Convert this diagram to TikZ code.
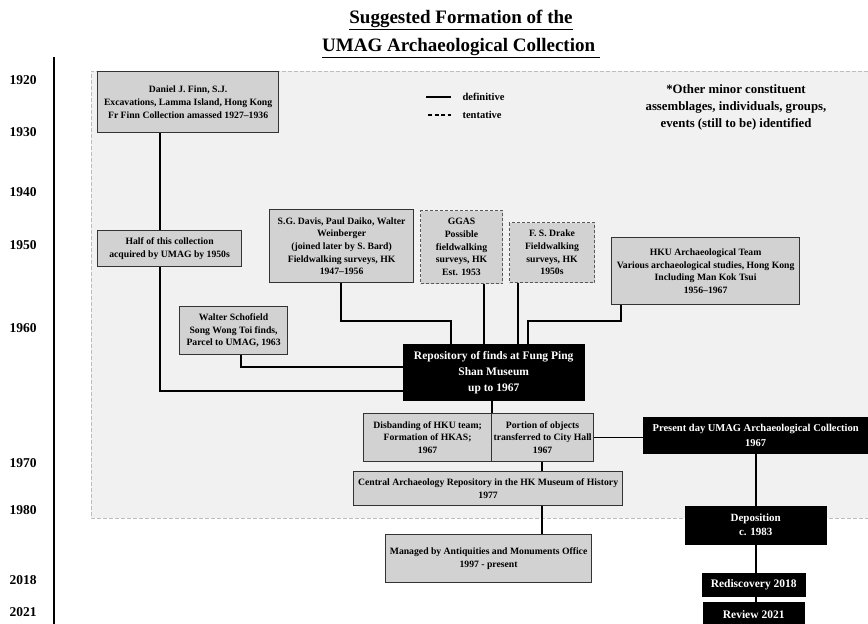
\documentclass[tikz,border=0pt]{standalone}
\usepackage{fontspec}
\setmainfont{Liberation Serif}
\usetikzlibrary{positioning}
\definecolor{boxgray}{HTML}{D2D2D2}
\definecolor{zonegray}{HTML}{F1F1F1}
\definecolor{zoneedge}{HTML}{BDBDBD}
\tikzset{
    gbox/.style={
        draw=black!80,
        line width=1.2pt,
        fill=boxgray,
        align=center,
        anchor=north west,
        inner sep=1pt,
        font=\bfseries\fontsize{9.7}{12.7}\selectfont
    },
    tbox/.style={
        gbox,
        draw=black!65,
        line width=1pt,
        dash pattern=on 3pt off 2pt
    },
    bbox/.style={
        draw=black,
        fill=black,
        text=white,
        align=center,
        anchor=north west,
        inner sep=1pt,
        font=\bfseries\fontsize{11.5}{16}\selectfont
    },
    link/.style={
        line width=1.6pt,
        black
    },
    yr/.style={font=\bfseries\fontsize{13.5}{14}\selectfont},
    lbl/.style={font=\bfseries\fontsize{10.5}{12}\selectfont, anchor=west}
}

\begin{document}
\begin{tikzpicture}[x=1pt,y=-1pt]
\useasboundingbox (0,0) rectangle (868,624);

% shaded zone
\fill[zonegray] (91,71) rectangle (880,518);
\draw[zoneedge, line width=0.9pt, dash pattern=on 4pt off 2pt]
    (880,71) -- (91,71) -- (91,518) -- (880,518);

% title
\node[align=center, font=\bfseries\fontsize{19}{28}\selectfont] (title) at (461,34)
    {\underline{Suggested Formation of the}\\\underline{UMAG Archaeological Collection\ }};

% time axis
\coordinate (axtop) at (54,57);
\coordinate (axbot) at (54,626);
\draw[link, line width=1.4pt] (axtop) -- (axbot);
\foreach \yr/\ypos in {1920/80,1930/132,1940/192,1950/245,1960/328,1970/463,1980/510,2018/580,2021/612}
    \node[yr] (y\yr) at (23,\ypos) {\yr};

% legend and note
\node[lbl] (defn) at (459,97) {definitive};
\node[lbl] (tent) at (459,115) {tentative};
\draw[link] ([xshift=-33]defn.west) -- ([xshift=-8]defn.west);
\draw[link, dash pattern=on 4pt off 2.5pt] ([xshift=-31]tent.west) -- ([xshift=-8]tent.west);
\node[align=center, font=\bfseries\fontsize{12.8}{17}\selectfont] (note) at (736,107)
    {*Other minor constituent\\assemblages, individuals, groups,\\events (still to be) identified};

% source boxes
\node[gbox, minimum width=181, minimum height=61] (finn) at (97,71)
    {Daniel J. Finn, S.J.\\Excavations, Lamma Island, Hong Kong\\Fr Finn Collection amassed 1927–1936};
\node[gbox, minimum width=144, minimum height=36] (half) at (97,230)
    {Half of this collection\\acquired by UMAG by 1950s};
\node[gbox, minimum width=144, minimum height=73] (davis) at (269,209)
    {S.G. Davis, Paul Daiko, Walter\\Weinberger\\(joined later by S. Bard)\\Fieldwalking surveys, HK\\1947–1956};
\node[tbox, minimum width=82, minimum height=73] (ggas) at (420,210)
    {GGAS\\Possible\\fieldwalking\\surveys, HK\\Est. 1953};
\node[tbox, minimum width=85, minimum height=60] (drake) at (509,222)
    {F. S. Drake\\Fieldwalking\\surveys, HK\\1950s};
\node[gbox, minimum width=188, minimum height=67] (hku) at (611,237)
    {HKU Archaeological Team\\Various archaeological studies, Hong Kong\\Including Man Kok Tsui\\1956–1967};
\node[gbox, minimum width=108, minimum height=48] (scho) at (179,306)
    {Walter Schofield\\Song Wong Toi finds,\\Parcel to UMAG, 1963};

% repository and later stages
\node[bbox, minimum width=181, minimum height=56] (repo) at (403,344)
    {Repository of finds at Fung Ping\\Shan Museum\\up to 1967};
\node[gbox, minimum width=128, minimum height=48] (disb) at (363,413)
    {Disbanding of HKU team;\\Formation of HKAS;\\1967};
\node[gbox, minimum width=102, minimum height=48] (port) at (491,413)
    {Portion of objects\\transferred to City Hall\\1967};
\node[gbox, minimum width=269, minimum height=34] (cent) at (353,471)
    {Central Archaeology Repository in the HK Museum of History\\1977};
\node[gbox, minimum width=206, minimum height=48] (amo) at (385,534)
    {Managed by Antiquities and Monuments Office\\1997 - present};
\node[bbox, minimum width=225, minimum height=36, font=\bfseries\fontsize{10.5}{15}\selectfont] (pres) at (643,417)
    {Present day UMAG Archaeological Collection\\1967};
\node[bbox, minimum width=141, minimum height=38, font=\bfseries\fontsize{11}{14}\selectfont] (depo) at (685,506)
    {Deposition\\c. 1983};
\node[bbox, minimum width=103, minimum height=23] (redisc) at (702,573) {Rediscovery 2018};
\node[bbox, minimum width=101, minimum height=24] (review) at (703,602) {Review 2021};

% connectors
\draw[link] (finn.south -| 160,0) -- (half.north -| 160,0);
\draw[link] (half.south -| 160,0) |- (repo.west |- 0,391);
\draw[link] (scho.south -| 241,0) |- (repo.west |- 0,367);
\draw[link] (davis.south -| 341,0) -- ++(0,38) -| (repo.north -| 451,0);
\draw[link] (ggas.south -| 484,0) -- (repo.north -| 484,0);
\draw[link] (drake.south -| 518,0) -- (repo.north -| 518,0);
\draw[link] (hku.south -| 621,0) -- ++(0,16) -| (repo.north -| 528,0);
\draw[link] (repo.south -| disb.north east) -- (disb.north east);
\draw[link] (port.south -| 542,0) -- (cent.north -| 542,0);
\draw[link] (cent.south -| 542,0) -- (amo.north -| 542,0);
\draw[link] (port.east) -- (pres.west |- port.east);
\draw[link] (pres.south -| depo.north) -- (depo.north);
\draw[link] (depo.south) -- (redisc.north -| depo.south);
\draw[link] (redisc.south -| depo.south) -- (review.north -| depo.south);

\end{tikzpicture}
\end{document}
